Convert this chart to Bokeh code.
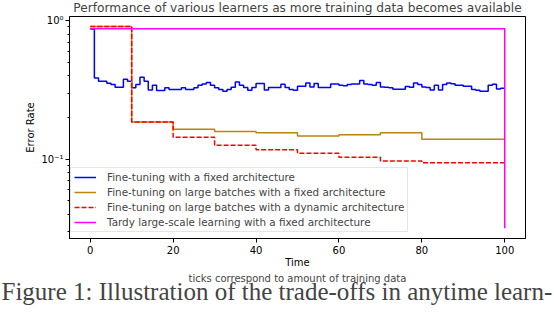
from bokeh.plotting import figure
from bokeh.models import Range1d, FixedTicker, Legend, LegendItem, Title
from bokeh.embed import file_html
from bokeh.resources import INLINE

# ---- data ----
time_steps = list(range(0, 101))
finetune_fixed = [0.870, 0.385, 0.365, 0.365, 0.353, 0.345, 0.330, 0.330, 0.377, 0.365,
                  0.327, 0.345, 0.390, 0.365, 0.316, 0.341, 0.313, 0.313, 0.327, 0.318,
                  0.318, 0.318, 0.327, 0.318, 0.318, 0.327, 0.341, 0.349, 0.358, 0.341,
                  0.327, 0.318, 0.309, 0.318, 0.330, 0.361, 0.341, 0.329, 0.314, 0.329,
                  0.351, 0.351, 0.316, 0.329, 0.329, 0.329, 0.347, 0.329, 0.318, 0.314,
                  0.336, 0.336, 0.355, 0.332, 0.351, 0.329, 0.329, 0.329, 0.349, 0.349,
                  0.341, 0.338, 0.345, 0.349, 0.349, 0.369, 0.349, 0.345, 0.341, 0.357,
                  0.332, 0.330, 0.327, 0.320, 0.320, 0.320, 0.334, 0.330, 0.355, 0.345,
                  0.332, 0.329, 0.316, 0.341, 0.316, 0.345, 0.355, 0.350, 0.341, 0.341,
                  0.336, 0.336, 0.318, 0.314, 0.309, 0.309, 0.341, 0.347, 0.321, 0.325, 0.325]
batch_times = [0, 10, 20, 30, 40, 50, 60, 70, 80, 90, 100]
large_batch_fixed = [0.906, 0.185, 0.164, 0.158, 0.155, 0.147, 0.150, 0.155, 0.139, 0.139, 0.139]
large_batch_dynamic = [0.906, 0.185, 0.144, 0.126, 0.117, 0.110, 0.103, 0.097, 0.094, 0.094, 0.094]
tardy_times = [0, 100]
tardy_large_scale = [0.872, 0.0316]

legend_labels = ["Fine-tuning with a fixed architecture",
                 "Fine-tuning on large batches with a fixed architecture",
                 "Fine-tuning on large batches with a dynamic architecture",
                 "Tardy large-scale learning with a fixed architecture"]
x_ticks = [0, 20, 40, 60, 80, 100]
y_major_ticks = [0.1, 1.0]
y_major_labels = ["10\u207b\u00b9", "10\u2070"]
y_minor_ticks = [0.03, 0.04, 0.05, 0.06, 0.07, 0.08, 0.09,
                 0.2, 0.3, 0.4, 0.5, 0.6, 0.7, 0.8, 0.9]

title_text = "Performance of various learners as more training data becomes available"
subtitle_text = "ticks correspond to amount of training data"
caption_text = "Figure 1: Illustration of the trade-offs in anytime learn-"

FONT = "DejaVu Sans"

p = figure(width=554, height=312, output_backend="svg", toolbar_location=None,
           x_range=Range1d(-5, 105), y_range=Range1d(0.0267, 1.071),
           y_axis_type="log",
           min_border_left=69, min_border_right=29, min_border_top=16, min_border_bottom=74)
p.background_fill_color = "white"
p.border_fill_color = "white"
p.outline_line_color = "black"
p.outline_line_width = 1
p.xgrid.visible = False
p.ygrid.visible = False

# title
p.title.text = title_text
p.title.align = "center"
p.title.vertical_align = "top"
p.title.text_font = FONT
p.title.text_font_size = "12.2px"
p.title.text_font_style = "normal"
p.title.standoff = 0

# lines
r_blue = p.step(time_steps, finetune_fixed, mode="after", line_color="#0000ff", line_width=1.5)
r_gold = p.step(batch_times, large_batch_fixed, mode="after", line_color="#b8860b", line_width=1.5)
r_red = p.step(batch_times, large_batch_dynamic, mode="after", line_color="#ff0000",
               line_width=1.5, line_dash="5 2")
r_mag = p.step(tardy_times, tardy_large_scale, mode="after", line_color="#ff00ff", line_width=1.5)

# axes
p.xaxis.ticker = FixedTicker(ticks=x_ticks)
p.yaxis.ticker = FixedTicker(ticks=y_major_ticks, minor_ticks=y_minor_ticks)
p.yaxis.major_label_overrides = {t: l for t, l in zip(y_major_ticks, y_major_labels)}
for ax in (p.xaxis[0], p.yaxis[0]):
    ax.axis_line_color = "black"
    ax.major_tick_line_color = "black"
    ax.minor_tick_line_color = "black"
    ax.major_tick_in = 0
    ax.major_tick_out = 4
    ax.minor_tick_in = 0
    ax.minor_tick_out = 2
    ax.major_label_text_font = FONT
    ax.major_label_text_font_size = "10px"
    ax.major_label_text_color = "black"
    ax.axis_label_text_font = FONT
    ax.axis_label_text_font_size = "10px"
    ax.axis_label_text_font_style = "normal"
    ax.axis_label_text_color = "black"
p.xaxis.minor_tick_line_color = None
p.xaxis.major_label_standoff = 3
p.xaxis.axis_label = "Time"
p.xaxis.axis_label_standoff = 0
p.yaxis.major_label_standoff = 2
p.yaxis.axis_label = "Error Rate"
p.yaxis.axis_label_standoff = 2

t1 = Title(text=subtitle_text, align="center", vertical_align="bottom",
           text_font=FONT, text_font_size="10px", text_font_style="normal", standoff=0)
p.add_layout(t1, "below")
t2 = Title(text=caption_text, align="left", vertical_align="bottom", offset=-68,
           text_font="Liberation Serif", text_font_size="25px", text_font_style="normal",
           standoff=-16)
p.add_layout(t2, "below")

legend = Legend(items=[LegendItem(label=legend_labels[0], renderers=[r_blue]),
                       LegendItem(label=legend_labels[1], renderers=[r_gold]),
                       LegendItem(label=legend_labels[2], renderers=[r_red]),
                       LegendItem(label=legend_labels[3], renderers=[r_mag])],
                location=(1, 6), padding=3, spacing=3, margin=0,
                glyph_width=22, glyph_height=12, label_height=12, label_standoff=11,
                label_text_font=FONT, label_text_font_size="10.4px",
                border_line_color="#cccccc", border_line_width=1,
                background_fill_color="white", background_fill_alpha=0.8)
p.add_layout(legend)

open("out.html", "w").write(file_html(p, INLINE))
